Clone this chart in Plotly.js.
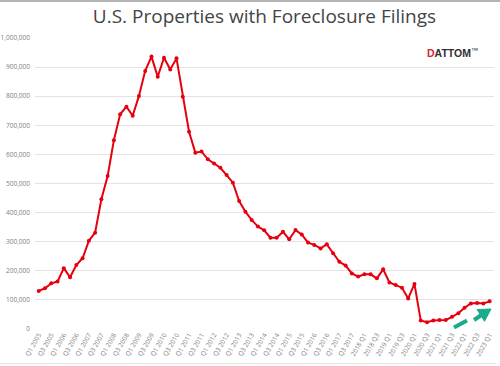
<!DOCTYPE html>
<html>
<head>
<meta charset="utf-8">
<script src="https://cdn.plot.ly/plotly-3.0.1.min.js"></script>
<style>
html,body{margin:0;padding:0;background:#fff;}
#wrap{position:relative;width:500px;height:366px;}
#chart{width:500px;height:366px;}
#topline{position:absolute;left:0;top:0;width:500px;height:2px;background:#b4b4b4;}
#botline{position:absolute;left:0;top:363px;width:496px;height:1px;background:#e2e2e2;}
</style>
</head>
<body>
<div id="wrap">
<div id="chart"></div>
<div id="topline"></div>
<div id="botline"></div>
</div>
<script>
const quarters = [
 "Q1 2005","Q2 2005","Q3 2005","Q4 2005",
 "Q1 2006","Q2 2006","Q3 2006","Q4 2006",
 "Q1 2007","Q2 2007","Q3 2007","Q4 2007",
 "Q1 2008","Q2 2008","Q3 2008","Q4 2008",
 "Q1 2009","Q2 2009","Q3 2009","Q4 2009",
 "Q1 2010","Q2 2010","Q3 2010","Q4 2010",
 "Q1 2011","Q2 2011","Q3 2011","Q4 2011",
 "Q1 2012","Q2 2012","Q3 2012","Q4 2012",
 "Q1 2013","Q2 2013","Q3 2013","Q4 2013",
 "Q1 2014","Q2 2014","Q3 2014","Q4 2014",
 "Q1 2015","Q2 2015","Q3 2015","Q4 2015",
 "Q1 2016","Q2 2016","Q3 2016","Q4 2016",
 "Q1 2017","Q2 2017","Q3 2017","Q4 2017",
 "2018 Q1","2018 Q2","2018 Q3","2018 Q4",
 "2019 Q1","2019 Q2","2019 Q3","2019 Q4",
 "2020 Q1","2020 Q2","2020 Q3","2020 Q4",
 "2021 Q1","2021 Q2","2021 Q3","2021 Q4",
 "2022 Q1","2022 Q2","2022 Q3","2022 Q4",
 "2023 Q1"
];

const filings = [
 131000,140000,157000,163000,
 209000,178000,220000,243000,
 303000,331000,446000,526000,
 649000,738000,764000,733000,
 801000,887000,936000,867000,
 932000,892000,930000,798000,
 678000,606000,610000,583000,
 569000,554000,529000,503000,
 440000,403000,375000,352000,
 339000,314000,314000,334000,
 308000,340000,325000,297000,
 289000,277000,291000,260000,
 231000,218000,191000,180000,
 188000,188000,174000,205000,
 160000,151000,142000,105000,
 155000,29000,23000,29000,
 31000,31000,42000,54000,
 73000,88000,89000,88000,
 95000
];

const yTicks = [0,100000,200000,300000,400000,500000,600000,700000,800000,900000,1000000];

const trace = {
  type: "scatter",
  mode: "lines+markers",
  x: quarters,
  y: filings,
  line: {color: "#e6000e", width: 2},
  marker: {color: "#e6000e", size: 4},
  hoverinfo: "x+y"
};

// pixel helpers for decoration placement (plot area: x 35..494, y 38..329)
const PL = 35, PW = 459, PT = 38, PH = 291;
const px = v => ((v - PL) / PW).toFixed(4);
const py = v => ((PT + PH - v) / PH).toFixed(4);

const teal = "#1aaa8c";

const headPath = "M " + px(491) + " " + py(309) +
                 " L " + px(484.5) + " " + py(321.3) +
                 " L " + px(477.1) + " " + py(309.5) + " Z";

const layout = {
  width: 500,
  height: 366,
  margin: {l: 35, r: 6, t: 38, b: 37},
  paper_bgcolor: "#ffffff",
  plot_bgcolor: "#ffffff",
  font: {family: "Open Sans, Liberation Sans, sans-serif", color: "#595959"},
  title: {
    text: "U.S. Properties with Foreclosure Filings",
    font: {family: "Open Sans, sans-serif", size: 19, color: "#444444"},
    x: 0.5, xanchor: "center", y: 0.955, yanchor: "middle", xref: "paper"
  },
  showlegend: false,
  xaxis: {
    type: "category",
    range: [-0.6, 72.7],
    tickmode: "linear",
    tick0: 0,
    dtick: 2,
    tickangle: -60,
    tickfont: {size: 6.5, color: "#808080"},
    showgrid: false,
    showline: false,
    zeroline: false,
    ticks: "",
    automargin: false
  },
  yaxis: {
    range: [0, 1000000],
    tickmode: "array",
    tickvals: yTicks,
    tickformat: ",d",
    tickfont: {size: 6.5, color: "#808080"},
    gridcolor: "#e3e3e3",
    gridwidth: 1,
    zeroline: false,
    showline: false,
    ticks: "",
    ticklabelstandoff: 4,
    automargin: false
  },
  shapes: [
    {type: "line", xref: "paper", yref: "paper",
     x0: px(454), y0: py(327.5), x1: px(467), y1: py(320.5),
     line: {color: teal, width: 4}},
    {type: "line", xref: "paper", yref: "paper",
     x0: px(474), y0: py(320), x1: px(481.5), y1: py(315),
     line: {color: teal, width: 4}},
    {type: "path", xref: "paper", yref: "paper", path: headPath,
     fillcolor: teal, line: {color: teal, width: 1}}
  ],
  annotations: [
    {xref: "paper", yref: "paper", x: px(480), y: py(53),
     xanchor: "right", yanchor: "middle", showarrow: false,
     text: "<b><span style='color:#d9262b'>D</span>ATTOM</b><sup>™</sup>",
     font: {family: "Liberation Sans, Arial, sans-serif", size: 10.5, color: "#2f2f2f"}}
  ]
};

Plotly.newPlot("chart", [trace], layout, {displayModeBar: false, staticPlot: true});
</script>
</body>
</html>
